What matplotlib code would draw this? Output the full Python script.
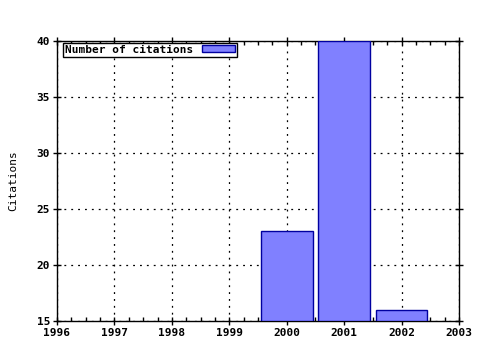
import matplotlib
matplotlib.use("Agg")
import matplotlib.pyplot as plt
from matplotlib.ticker import MultipleLocator

years = [2000, 2001, 2002]
citations = [23, 40, 16]
xticks = [1996, 1997, 1998, 1999, 2000, 2001, 2002, 2003]
yticks = [15, 20, 25, 30, 35, 40]

plt.rcParams["font.family"] = "DejaVu Sans Mono"
plt.rcParams["font.weight"] = "bold"
plt.rcParams["font.size"] = 8

fig = plt.figure(figsize=(4.8, 3.5), dpi=100)
ax = fig.add_axes([57 / 480, 1 - 321 / 350, 402 / 480, 280 / 350])

ax.bar(years, [c - 15 for c in citations], bottom=15, width=0.9,
       color="#8080ff", edgecolor="#0000a0", linewidth=1,
       label="Number of citations", zorder=3)

ax.set_xlim(1996, 2003)
ax.set_ylim(15, 40)
ax.set_xticks(xticks)
ax.set_yticks(yticks)
ax.xaxis.set_minor_locator(MultipleLocator(0.25))
ax.tick_params(axis="both", which="both", direction="inout", top=True, right=True,
               length=6, width=1, color="black", pad=2)
ax.tick_params(axis="x", which="minor", direction="in", length=3)
ax.grid(True, which="major", linestyle=(0, (1.5, 4)), color="black", linewidth=0.9)
for s in ax.spines.values():
    s.set_linewidth(1)
ax.set_ylabel("Citations", labelpad=13)

leg = ax.legend(loc="upper left", markerfirst=False, fancybox=False,
                framealpha=1, edgecolor="black", handlelength=3.0,
                handleheight=0.6, borderpad=0.15, borderaxespad=0.2,
                bbox_to_anchor=(0.01, 1.0))
leg.get_frame().set_linewidth(1)

fig.savefig("out.png", dpi=100)
